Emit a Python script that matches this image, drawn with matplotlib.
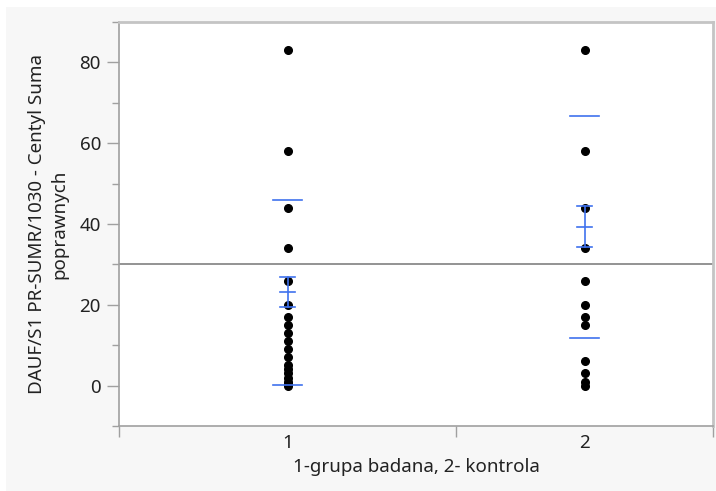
import matplotlib.pyplot as plt
import numpy as np
from matplotlib.patches import Rectangle
from matplotlib.ticker import MultipleLocator

# group codes and their sizes (x axis widths are proportional to n)
groups = ['1', '2']
group_n = [21, 16]

# percentile scores per group
grupa1 = [83, 58, 44, 34, 26, 20, 17, 15, 13, 11, 9, 7, 5, 4, 3, 2, 1, 0.5, 0]
grupa2 = [83, 58, 44, 34, 26, 20, 17, 15, 6, 3, 1, 0]

# summary statistics drawn in blue
means = [23.1, 39.3]
sds = [22.9, 27.4]
ses = [3.7, 5.1]
grand_mean = 30.1

plt.rcParams['font.family'] = ['Noto Sans', 'DejaVu Sans']
fs = 13.5

fig = plt.figure(figsize=(7.16, 4.91), dpi=100)
fig.patch.set_facecolor('white')
fig.patches.append(Rectangle((6/716, 0), 1, 484/491, transform=fig.transFigure,
                             facecolor='#f7f7f7', edgecolor='none', zorder=-10))
ax = fig.add_axes([119/716, 65/491, 594/716, 404/491])
ax.set_facecolor('white')

edges = np.concatenate([[0], np.cumsum(group_n)])
centers = (edges[:-1] + edges[1:]) / 2

blue = '#3f72ee'
ax.axhline(grand_mean, color='#8a8a8a', lw=1.3, zorder=1)

for i, vals in enumerate([grupa1, grupa2]):
    cx = centers[i]
    ax.plot([cx]*len(vals), vals, 'o', color='black', ms=5.5, zorder=3)
    # std dev lines
    for v in [means[i] + sds[i], means[i] - sds[i]]:
        ax.plot([cx - 0.88, cx + 0.88], [v, v], color=blue, lw=1.2, zorder=4)
    # mean with error bars
    ax.plot([cx, cx], [means[i] - ses[i], means[i] + ses[i]], color=blue, lw=1.2, zorder=4)
    for v in [means[i] - ses[i], means[i], means[i] + ses[i]]:
        ax.plot([cx - 0.45, cx + 0.45], [v, v], color=blue, lw=1.2, zorder=4)

ax.set_xlim(edges[0], edges[-1])
ax.set_ylim(-10, 90)
ax.yaxis.set_major_locator(MultipleLocator(20))
ax.yaxis.set_minor_locator(MultipleLocator(10))

ax.set_xticks(edges)
ax.set_xticklabels([])
ax.set_xticks(centers, minor=True)
ax.set_xticklabels(groups, minor=True)
ax.tick_params(axis='x', which='minor', length=0, pad=6)
ax.tick_params(axis='x', which='major', length=8, color='#a0a0a0', width=1)
ax.tick_params(axis='y', which='major', length=9, color='#a0a0a0', width=1, pad=4)
ax.tick_params(axis='y', which='minor', length=5, color='#a0a0a0', width=1)
ax.tick_params(which='both', labelsize=fs, labelcolor='#222222')

for s in ['left', 'bottom']:
    ax.spines[s].set_color('#a0a0a0')
    ax.spines[s].set_linewidth(1.2)
for s in ['top', 'right']:
    ax.spines[s].set_color('#c4c4c4')
    ax.spines[s].set_linewidth(2)

ax.set_xlabel('1-grupa badana, 2- kontrola', fontsize=fs, color='#222222', labelpad=4)
ax.set_ylabel('DAUF/S1 PR-SUMR/1030 - Centyl Suma\npoprawnych', fontsize=fs,
              color='#222222', labelpad=8, linespacing=1.3)

fig.savefig('out.png', dpi=100)
